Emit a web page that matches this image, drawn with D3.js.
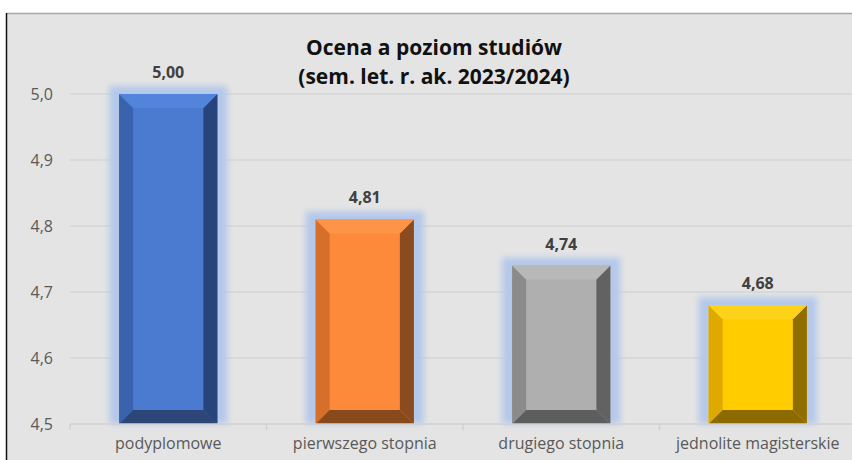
<!DOCTYPE html>
<html>
<head>
<meta charset="utf-8">
<style>
  body { margin: 0; background: #fff; }
  svg { display: block; font-family: "Open Sans", "Noto Sans", sans-serif; }
</style>
</head>
<body>
<svg width="852" height="460"></svg>
<script src="https://cdn.jsdelivr.net/npm/d3@7"></script>
<script>

var categories = ["podyplomowe", "pierwszego stopnia", "drugiego stopnia", "jednolite magisterskie"],
    values = [5.00, 4.81, 4.74, 4.68],
    yTicks = [4.5, 4.6, 4.7, 4.8, 4.9, 5.0],
    titleLines = ["Ocena a poziom studiów", "(sem. let. r. ak. 2023/2024)"];

// front, left, right, top, bottom shades for each bar
var shades = [
  ["#4a7bd1", "#3a63ae", "#27457a", "#5384dc", "#2c4677"],
  ["#fd8a3a", "#d56f29", "#8a4b1e", "#fe9447", "#884a1d"],
  ["#afafaf", "#8b8b8b", "#626262", "#b8b8b8", "#5e5e5e"],
  ["#ffcc00", "#dfa900", "#8f6d00", "#ffd21a", "#8b6a00"]
];

var svg = d3.select("svg");

var fmt1 = function(v) { return d3.format(".1f")(v).replace(".", ","); },
    fmt2 = function(v) { return d3.format(".2f")(v).replace(".", ","); };

// chart frame
svg.append("rect").attr("x", 6).attr("y", 13).attr("width", 846).attr("height", 447).attr("fill", "#e4e4e4");
svg.append("line").attr("x1", 6).attr("x2", 852).attr("y1", 13.5).attr("y2", 13.5).attr("stroke", "#a8a8a8").attr("stroke-width", 1.5);
svg.append("line").attr("x1", 6.5).attr("x2", 6.5).attr("y1", 13).attr("y2", 460).attr("stroke", "#111").attr("stroke-width", 1.5);

var x = d3.scaleBand().domain(categories).range([70, 856]).paddingInner(0.5).paddingOuter(0.25),
    y = d3.scaleLinear().domain([4.5, 5.0]).range([424, 94]);

var defs = svg.append("defs");
defs.append("filter").attr("id", "glow").attr("x", "-50%").attr("y", "-50%").attr("width", "200%").attr("height", "200%")
  .append("feGaussianBlur").attr("stdDeviation", 3);

// gridlines
svg.append("g").selectAll("line").data(yTicks.slice(1)).join("line")
    .attr("x1", 70).attr("x2", 852)
    .attr("y1", d => y(d)).attr("y2", d => y(d))
    .attr("stroke", "#d6d6d6").attr("stroke-width", 1.5);

// y labels
svg.append("g").selectAll("text").data(yTicks).join("text")
    .attr("x", 53).attr("y", d => y(d) + 6)
    .attr("text-anchor", "end")
    .attr("font-size", 16).attr("fill", "#595959")
    .text(fmt1);

// bars
var bev = 14;
var bars = svg.append("g").selectAll("g").data(values).join("g");

bars.append("rect")
    .attr("x", (d, i) => x(categories[i]) - 10)
    .attr("y", d => y(d) - 8)
    .attr("width", x.bandwidth() + 20)
    .attr("height", d => y(4.5) - y(d) + 8)
    .attr("fill", "#b4c8ea")
    .attr("filter", "url(#glow)");

function face(pts) { return "M" + pts.map(p => p.join(",")).join("L") + "Z"; }

bars.each(function(d, i) {
  var g = d3.select(this), c = shades[i],
      x0 = x(categories[i]), x1 = x0 + x.bandwidth(),
      y0 = y(d), y1 = y(4.5);
  g.append("rect").attr("x", x0).attr("y", y0).attr("width", x1 - x0).attr("height", y1 - y0).attr("fill", c[0]);
  g.append("path").attr("d", face([[x0, y0], [x0 + bev, y0 + bev], [x0 + bev, y1 - bev], [x0, y1]])).attr("fill", c[1]);
  g.append("path").attr("d", face([[x1, y0], [x1 - bev, y0 + bev], [x1 - bev, y1 - bev], [x1, y1]])).attr("fill", c[2]);
  g.append("path").attr("d", face([[x0, y0], [x1, y0], [x1 - bev, y0 + bev], [x0 + bev, y0 + bev]])).attr("fill", c[3]);
  g.append("path").attr("d", face([[x0, y1], [x1, y1], [x1 - bev, y1 - bev], [x0 + bev, y1 - bev]])).attr("fill", c[4]);
});

// value labels
bars.append("text")
    .attr("x", (d, i) => x(categories[i]) + x.bandwidth() / 2)
    .attr("y", d => y(d) - 16)
    .attr("text-anchor", "middle")
    .attr("font-size", 16).attr("font-weight", "bold").attr("fill", "#404040")
    .text(fmt2);

// x axis
var xAxis = svg.append("g").attr("transform", "translate(0," + y(4.5) + ")")
    .call(d3.axisBottom(x).tickSize(0).tickPadding(14))
    .attr("font-family", null).attr("font-size", null);
xAxis.select(".domain").remove();
xAxis.append("line").attr("x1", 70).attr("x2", 852).attr("stroke", "#d0d0d0").attr("stroke-width", 1.5);
xAxis.selectAll(".tick text").attr("font-size", 16).attr("fill", "#595959");
var step = x.step();
xAxis.selectAll(".sep").data(d3.range(5)).join("line")
    .attr("x1", i => 70 + i * step).attr("x2", i => 70 + i * step)
    .attr("y1", 0).attr("y2", 6)
    .attr("stroke", "#d0d0d0").attr("stroke-width", 1.5);

// title
svg.append("text")
    .attr("x", 434).attr("y", 55)
    .attr("text-anchor", "middle")
    .attr("font-size", 21).attr("font-weight", "bold").attr("fill", "#111")
  .selectAll("tspan").data(titleLines).join("tspan")
    .attr("x", 434).attr("dy", (d, i) => i ? 29 : 0)
    .text(d => d);

</script>
</body>
</html>
